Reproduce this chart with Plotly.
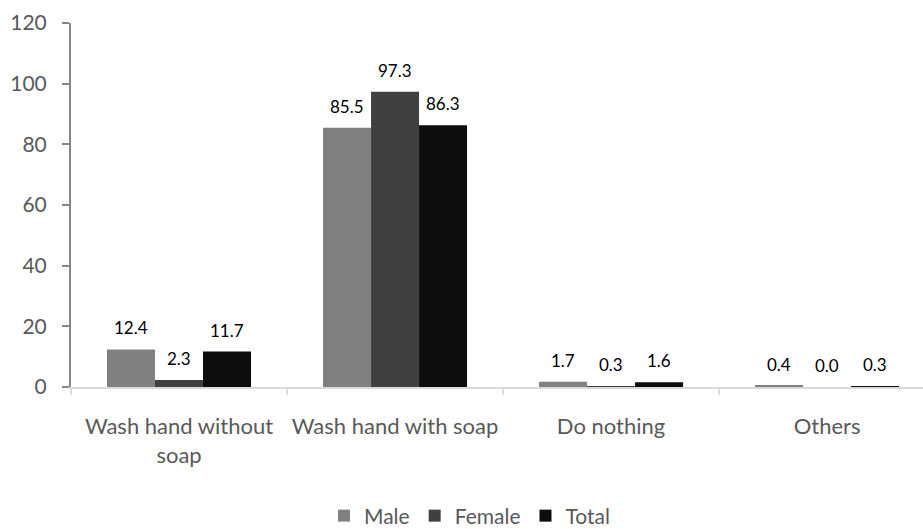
import plotly.graph_objects as go

# Hand-washing practice after defecation, by sex (%)
categories = ["Wash hand without<br>soap", "Wash hand with soap", "Do nothing", "Others"]
male = [12.4, 85.5, 1.7, 0.4]
female = [2.3, 97.3, 0.3, 0.0]
total = [11.7, 86.3, 1.6, 0.3]
y_ticks = [0, 20, 40, 60, 80, 100, 120]

series = [
    ("Male", male, "#808080"),
    ("Female", female, "#404040"),
    ("Total", total, "#0d0d0d"),
]

FONT = "Lato"
BARGAP = 1 / 3

fig = go.Figure()
for name, vals, color in series:
    fig.add_trace(go.Bar(
        name=name,
        x=categories,
        y=vals,
        marker=dict(color=color, line=dict(width=0)),
    ))

# value labels above each bar, placed with the axis scales
n = len(series)
bw = (1 - BARGAP) / n
for j, (name, vals, color) in enumerate(series):
    for i, v in enumerate(vals):
        fig.add_annotation(
            x=i + (j - (n - 1) / 2) * bw,
            y=v,
            xref="x", yref="y",
            text=f"{v:.1f}",
            showarrow=False,
            yanchor="bottom",
            yshift=9,
            font=dict(family=FONT, size=17, color="#000000"),
        )

fig.update_layout(
    width=923,
    height=529,
    margin=dict(l=71, r=0, t=23, b=142),
    paper_bgcolor="white",
    plot_bgcolor="white",
    barmode="group",
    bargap=BARGAP,
    bargroupgap=0,
    font=dict(family=FONT, size=21, color="#595959"),
    showlegend=True,
    legend=dict(
        orientation="h",
        xref="container", yref="container",
        x=0.5 + 8 / 923, xanchor="center",
        y=13 / 529, yanchor="middle",
        font=dict(family=FONT, size=21, color="#595959"),
        itemwidth=30,
        traceorder="normal",
    ),
)

fig.update_xaxes(
    type="category",
    range=[-0.5, 3.444],
    automargin=False,
    tickangle=0,
    showline=True,
    linecolor="#d9d9d9",
    linewidth=2,
    ticks="outside",
    tickson="boundaries",
    ticklen=6,
    tickcolor="#d9d9d9",
    tickwidth=2,
    ticklabelstandoff=19,
    tickfont=dict(family=FONT, size=22, color="#595959"),
    showgrid=False,
    zeroline=False,
)

fig.update_yaxes(
    range=[0, 120],
    tickvals=y_ticks,
    automargin=False,
    showline=True,
    linecolor="#868686",
    linewidth=2,
    ticks="outside",
    ticklen=7,
    tickcolor="#868686",
    tickwidth=2,
    ticklabelstandoff=11,
    tickfont=dict(family=FONT, size=21, color="#595959"),
    showgrid=False,
    zeroline=False,
)

fig.write_html("out.html")
